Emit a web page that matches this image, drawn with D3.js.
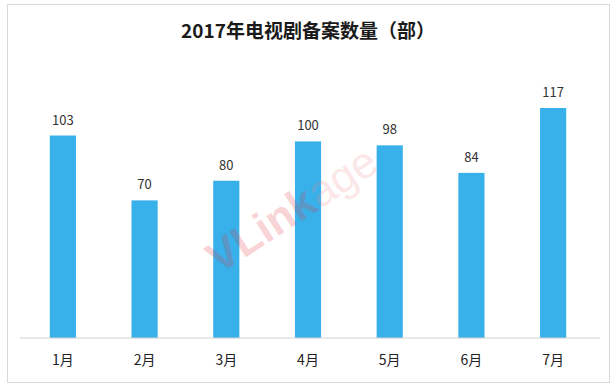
<!DOCTYPE html>
<html>
<head>
<meta charset="utf-8">
<script src="https://cdn.jsdelivr.net/npm/d3@7"></script>
<style>
  body { margin: 0; background: #fff; }
  svg { display: block; font-family: "Microsoft YaHei", "Noto Sans CJK SC", sans-serif; }
</style>
</head>
<body>
<svg id="drawing_region"></svg>
<script>
const months = ["1月", "2月", "3月", "4月", "5月", "6月", "7月"];
const counts = [103, 70, 80, 100, 98, 84, 117];
const title = "2017年电视剧备案数量（部）";

const width = 616, height = 388;
const baseY = 338;

const svg = d3.select('#drawing_region')
    .attr('width', width)
    .attr('height', height);

// frame
svg.append('rect')
    .attr('x', 7.5).attr('y', 4.5)
    .attr('width', 602).attr('height', 378)
    .attr('fill', 'none')
    .attr('stroke', '#d9d9d9');

svg.append('text')
    .attr('x', 308).attr('y', 38)
    .attr('text-anchor', 'middle')
    .attr('font-size', 19)
    .attr('font-weight', 'bold')
    .attr('fill', '#1a1a1a')
    .text(title);

const xscale = d3.scaleBand()
    .domain(months)
    .range([22, 594])
    .paddingInner(0.68)
    .paddingOuter(0.34);

const yscale = d3.scaleLinear()
    .domain([0, 117])
    .range([baseY, 108]);

svg.selectAll('rect.bar')
    .data(counts)
    .enter()
    .append('rect')
    .attr('class', 'bar')
    .attr('x', (d, i) => xscale(months[i]))
    .attr('y', d => yscale(d))
    .attr('width', xscale.bandwidth())
    .attr('height', d => baseY - yscale(d))
    .attr('fill', '#38b0ea');

svg.selectAll('text.val')
    .data(counts)
    .enter()
    .append('text')
    .attr('class', 'val')
    .attr('x', (d, i) => xscale(months[i]) + xscale.bandwidth() / 2)
    .attr('y', d => yscale(d) - 11)
    .attr('text-anchor', 'middle')
    .attr('font-size', 13)
    .attr('fill', '#333')
    .text(d => d);

const xaxis = d3.axisBottom(xscale).tickSize(0).tickSizeOuter(0);
const xg = svg.append('g')
    .attr('transform', `translate(0, ${baseY})`)
    .call(xaxis);
xg.select('.domain').remove();
xg.append('line')
    .attr('x1', 20).attr('x2', 600)
    .attr('stroke', '#d0d0d0');
xg.selectAll('text')
    .attr('dy', 0)
    .attr('y', 27)
    .attr('font-size', 14)
    .attr('font-family', '"Noto Sans CJK SC", sans-serif')
    .attr('fill', '#222');

// watermark, drawn over the bars
const wm = svg.append('text')
    .attr('transform', 'translate(300,222) rotate(-33)')
    .attr('text-anchor', 'middle')
    .attr('font-family', 'Arial, "Liberation Sans", sans-serif')
    .attr('font-size', 44)
    .attr('font-weight', 'bold')
    .attr('opacity', 0.2);
wm.append('tspan').attr('fill', '#e0303a').text('VLink');
wm.append('tspan').attr('fill', '#f08a90').attr('font-weight', 'normal').text('age');
</script>
</body>
</html>
